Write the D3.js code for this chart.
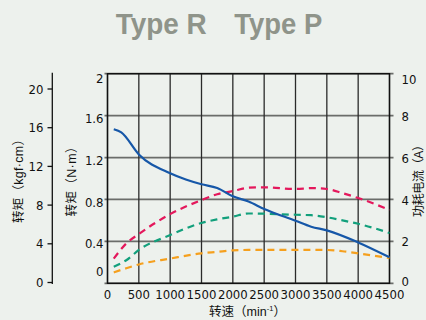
<!DOCTYPE html>
<html><head><meta charset="utf-8">
<script src="https://cdn.jsdelivr.net/npm/d3@7/dist/d3.min.js"></script>
<style>
html,body{margin:0;padding:0;background:#edf1ed;}
svg{display:block;}
</style></head>
<body>
<script>
// ---- data ----
const titles = ["Type R", "Type P"];
const speedTicks = [0, 500, 1000, 1500, 2000, 2500, 3000, 3500, 4000, 4500];
const nmTicks = [0, 0.4, 0.8, 1.2, 1.6, 2];
const kgfTicks = [0, 4, 8, 12, 16, 20];
const ampTicks = [0, 2, 4, 6, 8, 10];

const speedTorque = [100, 220, 500, 1000, 1250, 1500, 1750, 2000, 2250, 2500, 3000, 3250, 3500, 4000, 4500];
const torqueNm   = [1.47, 1.44, 1.23, 1.05, 0.99, 0.945, 0.91, 0.83, 0.78, 0.71, 0.597, 0.54, 0.505, 0.39, 0.248];

const speedCurrent = [100, 300, 500, 1000, 1500, 1750, 2000, 2250, 2500, 3000, 3250, 3500, 3750, 4000, 4500];
const currentRed    = [1.18, 1.9, 2.35, 3.3, 3.97, 4.25, 4.4, 4.56, 4.58, 4.5, 4.54, 4.5, 4.3, 4.07, 3.5];
const currentGreen  = [0.79, 1.1, 1.59, 2.3, 2.88, 3.05, 3.18, 3.33, 3.32, 3.27, 3.25, 3.15, 3.0, 2.84, 2.4];
const currentOrange = [0.52, 0.72, 0.9, 1.18, 1.43, 1.5, 1.57, 1.59, 1.59, 1.59, 1.59, 1.59, 1.53, 1.43, 1.2];

// ---- layout ----
const W = 426, H = 320;
const L = 107.5, R = 389.5, T = 73.7, B = 283.3;
const svg = d3.select("body").append("svg").attr("width", W).attr("height", H);
svg.append("rect").attr("width", W).attr("height", H).attr("fill", "#edf1ed");

const x = d3.scaleLinear().domain([0, 4500]).range([L, R]);
const yNm = d3.scaleLinear().domain([0, 2]).range([B, T]);
const yA = d3.scaleLinear().domain([0, 10]).range([B, T]);
const yKgf = d3.scaleLinear().domain([0, 20]).range([282.5, 89]);

const numFont = "'Liberation Sans Narrow','Arial Narrow','DejaVu Sans Condensed',sans-serif";
const cjkFont = "'Liberation Sans','Noto Sans CJK SC','Noto Sans',sans-serif";

// title
const titleX = [115.7, 234.3], titleW = [91, 88];
titles.forEach((t, i) => {
  svg.append("text").attr("x", titleX[i]).attr("y", 33.5)
    .attr("textLength", titleW[i]).attr("lengthAdjust", "spacingAndGlyphs")
    .attr("font-family", "'Liberation Sans',Arial,sans-serif").attr("font-weight", "bold")
    .attr("font-size", 29).attr("fill", "#8f948a").text(t);
});

// grid: horizontal
const g = svg.append("g");
g.selectAll("line.h").data(nmTicks).join("line")
  .attr("x1", L - 3).attr("x2", R + 4)
  .attr("y1", d => yNm(d)).attr("y2", d => yNm(d))
  .attr("stroke", "#6b6d6a").attr("stroke-width", 1.8);
// grid: vertical
g.selectAll("line.v").data(speedTicks).join("line")
  .attr("x1", d => x(d)).attr("x2", d => x(d))
  .attr("y1", T).attr("y2", B)
  .attr("stroke", "#2a2a2a").attr("stroke-width", 1.3);

// border
svg.append("rect").attr("x", L).attr("y", T).attr("width", R - L).attr("height", B - T)
  .attr("fill", "none").attr("stroke", "#111").attr("stroke-width", 1.4);

// curves
const lineNm = d3.line().x(d => x(d[0])).y(d => yNm(d[1])).curve(d3.curveMonotoneX);
const lineA = d3.line().x(d => x(d[0])).y(d => yA(d[1])).curve(d3.curveMonotoneX);
const dashed = [
  [currentOrange, "#f5a01e"],
  [currentGreen, "#12a07c"],
  [currentRed, "#e4185c"]
];
dashed.forEach(([vals, col]) => {
  svg.append("path").datum(speedCurrent.map((s, i) => [s, vals[i]]))
    .attr("d", lineA).attr("fill", "none").attr("stroke", col)
    .attr("stroke-width", 2.2).attr("stroke-dasharray", "7,5");
});
svg.append("path").datum(speedTorque.map((s, i) => [s, torqueNm[i]]))
  .attr("d", lineNm).attr("fill", "none").attr("stroke", "#1657a8")
  .attr("stroke-width", 2.2);

// x tick labels
svg.append("g").selectAll("text").data(speedTicks).join("text")
  .attr("x", d => x(d)).attr("y", 298.5).attr("text-anchor", "middle")
  .attr("font-family", numFont).attr("font-size", 13).attr("fill", "#111")
  .text(d => d);

// N·m labels
svg.append("g").selectAll("text").data(nmTicks).join("text")
  .attr("x", 103.5).attr("y", d => d === 0 ? 271.7 : (d === 2 ? 78 : yNm(d) + 2.5))
  .attr("dy", "0.35em").attr("text-anchor", "end")
  .attr("font-family", numFont).attr("font-size", 13).attr("fill", "#111")
  .text(d => d === 0 || d === 2 ? d : d.toFixed(1));

// kgf axis
svg.append("line").attr("x1", 52.3).attr("x2", 52.3).attr("y1", 72.7).attr("y2", 284)
  .attr("stroke", "#111").attr("stroke-width", 1.3);
svg.append("g").selectAll("line").data(kgfTicks).join("line")
  .attr("x1", 47.5).attr("x2", 52.3).attr("y1", d => yKgf(d)).attr("y2", d => yKgf(d))
  .attr("stroke", "#111").attr("stroke-width", 1.3);
svg.append("g").selectAll("text").data(kgfTicks).join("text")
  .attr("x", 43.5).attr("y", d => yKgf(d)).attr("dy", "0.35em").attr("text-anchor", "end")
  .attr("font-family", numFont).attr("font-size", 13).attr("fill", "#111")
  .text(d => d);

// amp labels
svg.append("g").selectAll("text").data(ampTicks).join("text")
  .attr("x", 401.5).attr("y", d => d === 10 ? 79.5 : (d === 0 ? 281 : yA(d) + 0.5))
  .attr("dy", "0.35em").attr("text-anchor", "start")
  .attr("font-family", numFont).attr("font-size", 13).attr("fill", "#111")
  .text(d => d);

// axis titles
function vlabel(cx, cy, txt, fs, len) {
  svg.append("text").attr("transform", `translate(${cx},${cy}) rotate(-90)`)
    .attr("text-anchor", "middle").attr("dominant-baseline", "central")
    .attr("textLength", len).attr("lengthAdjust", "spacing")
    .attr("font-family", cjkFont).attr("font-size", fs).attr("fill", "#111").text(txt);
}
vlabel(19, 178, "转矩（kgf·cm）", 12.5, 90);
vlabel(71.5, 178.5, "转矩（N·m）", 12.5, 76);
vlabel(418.5, 178, "功耗电流（A）", 12, 78);

const xl = svg.append("text").attr("x", 247.5).attr("y", 315.5).attr("text-anchor", "middle")
  .attr("font-family", cjkFont).attr("font-size", 12.5).attr("fill", "#111");
xl.append("tspan").text("转速（min");
xl.append("tspan").attr("font-size", 7.5).attr("dy", -5).text("-1");
xl.append("tspan").attr("dy", 5).text("）");
</script>
</body></html>
